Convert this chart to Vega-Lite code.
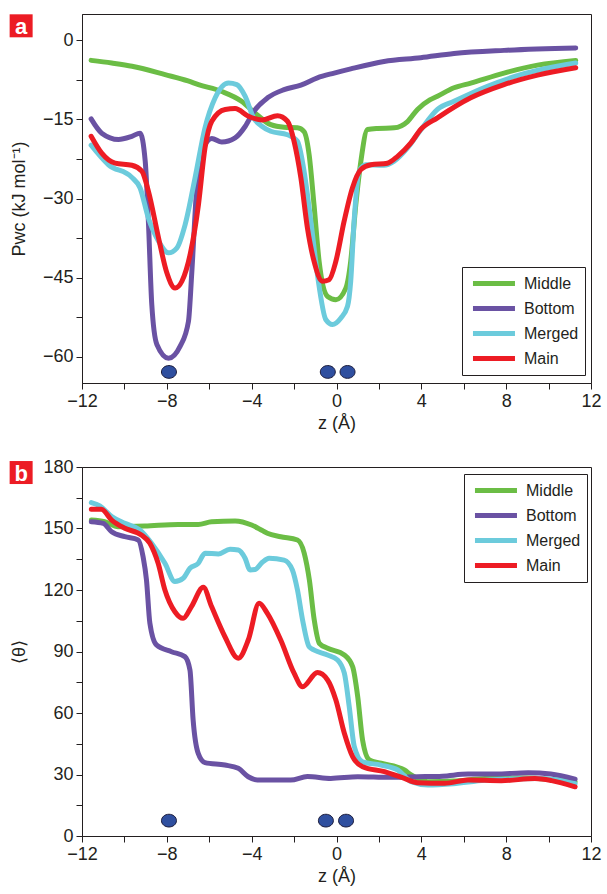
{
  "$schema": "https://vega.github.io/schema/vega-lite/v6.json",
  "padding": {"left": 9, "top": 13, "right": 2, "bottom": 2},
  "background": "white",
  "spacing": 24,
  "columns": 1,
  "align": "none",
  "config": {
    "font": "'Liberation Sans', Arial, sans-serif",
    "view": {"stroke": "#231f20", "strokeWidth": 1},
    "axis": {
      "grid": false,
      "labelFontSize": 18,
      "titleFontSize": 18,
      "titleFontWeight": "normal",
      "labelColor": "#231f20",
      "titleColor": "#231f20",
      "domainColor": "#231f20",
      "tickColor": "#231f20",
      "tickSize": 6,
      "labelPadding": 3,
      "labelFlush": false,
      "labelOverlap": false
    },
    "legend": {
      "strokeColor": "#231f20",
      "fillColor": "white",
      "padding": 6,
      "symbolType": "M-0.69,0L4.56,0",
      "symbolStrokeWidth": 5,
      "symbolSize": 256,
      "labelFontSize": 16,
      "labelColor": "#231f20",
      "labelOffset": 35,
      "rowPadding": 4
    }
  },
  "resolve": {"scale": {"color": "independent"}, "legend": {"color": "independent"}},
  "datasets": {
    "a": [
      {"s": "Middle", "z": -11.57, "v": -3.8}, {"s": "Middle", "z": -10.6, "v": -4.3}, {"s": "Middle", "z": -9.64, "v": -4.9}, {"s": "Middle", "z": -8.08, "v": -6.5}, {"s": "Middle", "z": -7.0, "v": -7.7}, {"s": "Middle", "z": -6.51, "v": -8.4}, {"s": "Middle", "z": -5.41, "v": -9.7}, {"s": "Middle", "z": -4.46, "v": -11.6}, {"s": "Middle", "z": -3.84, "v": -13.8}, {"s": "Middle", "z": -3.1, "v": -16.0}, {"s": "Middle", "z": -2.47, "v": -16.5}, {"s": "Middle", "z": -1.84, "v": -16.6}, {"s": "Middle", "z": -1.53, "v": -17.3}, {"s": "Middle", "z": -1.29, "v": -21.7}, {"s": "Middle", "z": -1.06, "v": -31.2}, {"s": "Middle", "z": -0.82, "v": -41.9}, {"s": "Middle", "z": -0.42, "v": -48.6}, {"s": "Middle", "z": -0.03, "v": -49.2}, {"s": "Middle", "z": 0.44, "v": -47.0}, {"s": "Middle", "z": 0.67, "v": -41.9}, {"s": "Middle", "z": 0.91, "v": -31.2}, {"s": "Middle", "z": 1.15, "v": -22.9}, {"s": "Middle", "z": 1.46, "v": -16.9}, {"s": "Middle", "z": 1.93, "v": -16.7}, {"s": "Middle", "z": 2.72, "v": -16.6}, {"s": "Middle", "z": 3.35, "v": -15.4}, {"s": "Middle", "z": 3.82, "v": -13.1}, {"s": "Middle", "z": 4.4, "v": -11.3}, {"s": "Middle", "z": 4.76, "v": -10.6}, {"s": "Middle", "z": 5.54, "v": -9.0}, {"s": "Middle", "z": 6.33, "v": -8.1}, {"s": "Middle", "z": 7.9, "v": -6.2}, {"s": "Middle", "z": 9.48, "v": -4.7}, {"s": "Middle", "z": 11.28, "v": -3.8},
      {"s": "Bottom", "z": -11.57, "v": -14.9}, {"s": "Bottom", "z": -11.07, "v": -17.6}, {"s": "Bottom", "z": -10.28, "v": -18.8}, {"s": "Bottom", "z": -9.65, "v": -18.2}, {"s": "Bottom", "z": -9.26, "v": -17.6}, {"s": "Bottom", "z": -9.02, "v": -22.9}, {"s": "Bottom", "z": -8.87, "v": -34.3}, {"s": "Bottom", "z": -8.71, "v": -50.1}, {"s": "Bottom", "z": -8.47, "v": -57.7}, {"s": "Bottom", "z": -7.92, "v": -60.3}, {"s": "Bottom", "z": -7.37, "v": -58.0}, {"s": "Bottom", "z": -6.98, "v": -53.3}, {"s": "Bottom", "z": -6.82, "v": -43.8}, {"s": "Bottom", "z": -6.59, "v": -28.0}, {"s": "Bottom", "z": -6.27, "v": -20.4}, {"s": "Bottom", "z": -5.88, "v": -18.6}, {"s": "Bottom", "z": -5.41, "v": -19.3}, {"s": "Bottom", "z": -4.78, "v": -18.5}, {"s": "Bottom", "z": -4.3, "v": -16.3}, {"s": "Bottom", "z": -3.9, "v": -13.5}, {"s": "Bottom", "z": -3.25, "v": -10.9}, {"s": "Bottom", "z": -2.47, "v": -9.35}, {"s": "Bottom", "z": -1.68, "v": -8.5}, {"s": "Bottom", "z": -0.9, "v": -7.1}, {"s": "Bottom", "z": -0.11, "v": -6.2}, {"s": "Bottom", "z": 0.67, "v": -5.4}, {"s": "Bottom", "z": 2.24, "v": -4.0}, {"s": "Bottom", "z": 3.97, "v": -3.3}, {"s": "Bottom", "z": 5.54, "v": -2.5}, {"s": "Bottom", "z": 7.9, "v": -1.9}, {"s": "Bottom", "z": 11.28, "v": -1.45},
      {"s": "Merged", "z": -11.57, "v": -19.9}, {"s": "Merged", "z": -10.75, "v": -23.6}, {"s": "Merged", "z": -9.65, "v": -26.0}, {"s": "Merged", "z": -9.26, "v": -28.0}, {"s": "Merged", "z": -8.87, "v": -33.7}, {"s": "Merged", "z": -8.39, "v": -38.1}, {"s": "Merged", "z": -7.92, "v": -40.3}, {"s": "Merged", "z": -7.53, "v": -39.4}, {"s": "Merged", "z": -7.14, "v": -35.0}, {"s": "Merged", "z": -6.67, "v": -26.1}, {"s": "Merged", "z": -6.2, "v": -16.6}, {"s": "Merged", "z": -5.72, "v": -10.9}, {"s": "Merged", "z": -5.09, "v": -8.1}, {"s": "Merged", "z": -4.7, "v": -8.4}, {"s": "Merged", "z": -4.31, "v": -10.6}, {"s": "Merged", "z": -3.91, "v": -14.7}, {"s": "Merged", "z": -3.52, "v": -16.3}, {"s": "Merged", "z": -3.1, "v": -17.25}, {"s": "Merged", "z": -2.31, "v": -17.9}, {"s": "Merged", "z": -1.84, "v": -19.15}, {"s": "Merged", "z": -1.53, "v": -24.8}, {"s": "Merged", "z": -1.21, "v": -34.3}, {"s": "Merged", "z": -0.9, "v": -44.4}, {"s": "Merged", "z": -0.5, "v": -53.0}, {"s": "Merged", "z": -0.19, "v": -53.9}, {"s": "Merged", "z": 0.2, "v": -52.7}, {"s": "Merged", "z": 0.52, "v": -50.45}, {"s": "Merged", "z": 0.67, "v": -45.7}, {"s": "Merged", "z": 0.83, "v": -34.3}, {"s": "Merged", "z": 1.07, "v": -24.8}, {"s": "Merged", "z": 1.38, "v": -23.6}, {"s": "Merged", "z": 2.24, "v": -23.7}, {"s": "Merged", "z": 2.72, "v": -22.9}, {"s": "Merged", "z": 3.35, "v": -20.4}, {"s": "Merged", "z": 3.97, "v": -17.0}, {"s": "Merged", "z": 4.76, "v": -13.1}, {"s": "Merged", "z": 5.54, "v": -11.56}, {"s": "Merged", "z": 7.12, "v": -8.7}, {"s": "Merged", "z": 8.69, "v": -6.5}, {"s": "Merged", "z": 11.28, "v": -4.3},
      {"s": "Main", "z": -11.57, "v": -18.2}, {"s": "Main", "z": -11.07, "v": -21.4}, {"s": "Main", "z": -10.44, "v": -23.3}, {"s": "Main", "z": -9.65, "v": -23.7}, {"s": "Main", "z": -9.18, "v": -24.8}, {"s": "Main", "z": -8.87, "v": -28.6}, {"s": "Main", "z": -8.39, "v": -37.5}, {"s": "Main", "z": -8.0, "v": -44.1}, {"s": "Main", "z": -7.61, "v": -47.0}, {"s": "Main", "z": -7.29, "v": -45.7}, {"s": "Main", "z": -6.9, "v": -40.6}, {"s": "Main", "z": -6.51, "v": -31.2}, {"s": "Main", "z": -6.2, "v": -20.4}, {"s": "Main", "z": -5.88, "v": -15.35}, {"s": "Main", "z": -5.25, "v": -13.1}, {"s": "Main", "z": -4.78, "v": -12.95}, {"s": "Main", "z": -4.15, "v": -14.4}, {"s": "Main", "z": -3.52, "v": -15.1}, {"s": "Main", "z": -2.78, "v": -14.3}, {"s": "Main", "z": -2.31, "v": -15.35}, {"s": "Main", "z": -2.0, "v": -19.15}, {"s": "Main", "z": -1.68, "v": -26.1}, {"s": "Main", "z": -1.37, "v": -35.6}, {"s": "Main", "z": -1.06, "v": -41.9}, {"s": "Main", "z": -0.66, "v": -45.7}, {"s": "Main", "z": -0.35, "v": -45.4}, {"s": "Main", "z": -0.03, "v": -41.9}, {"s": "Main", "z": 0.36, "v": -34.3}, {"s": "Main", "z": 0.75, "v": -28.0}, {"s": "Main", "z": 1.15, "v": -24.5}, {"s": "Main", "z": 1.62, "v": -23.6}, {"s": "Main", "z": 2.4, "v": -23.3}, {"s": "Main", "z": 2.88, "v": -22.0}, {"s": "Main", "z": 3.5, "v": -19.5}, {"s": "Main", "z": 3.97, "v": -16.9}, {"s": "Main", "z": 4.76, "v": -14.7}, {"s": "Main", "z": 6.33, "v": -10.9}, {"s": "Main", "z": 7.9, "v": -8.4}, {"s": "Main", "z": 9.48, "v": -6.6}, {"s": "Main", "z": 11.28, "v": -5.2}
    ],
    "b": [
      {"s": "Middle", "z": -11.56, "v": 154.1}, {"s": "Middle", "z": -10.93, "v": 153.3}, {"s": "Middle", "z": -10.3, "v": 150.9}, {"s": "Middle", "z": -9.04, "v": 151.2}, {"s": "Middle", "z": -7.46, "v": 152.0}, {"s": "Middle", "z": -6.52, "v": 152.0}, {"s": "Middle", "z": -5.89, "v": 153.3}, {"s": "Middle", "z": -4.78, "v": 153.7}, {"s": "Middle", "z": -4.0, "v": 151.7}, {"s": "Middle", "z": -3.5, "v": 149.0}, {"s": "Middle", "z": -3.26, "v": 147.7}, {"s": "Middle", "z": -2.63, "v": 146.0}, {"s": "Middle", "z": -1.84, "v": 144.4}, {"s": "Middle", "z": -1.52, "v": 137.9}, {"s": "Middle", "z": -1.28, "v": 124.9}, {"s": "Middle", "z": -1.05, "v": 105.4}, {"s": "Middle", "z": -0.81, "v": 94.0}, {"s": "Middle", "z": -0.42, "v": 91.6}, {"s": "Middle", "z": 0.37, "v": 88.3}, {"s": "Middle", "z": 0.76, "v": 82.6}, {"s": "Middle", "z": 1.0, "v": 68.0}, {"s": "Middle", "z": 1.23, "v": 46.8}, {"s": "Middle", "z": 1.55, "v": 37.1}, {"s": "Middle", "z": 2.1, "v": 35.5}, {"s": "Middle", "z": 3.2, "v": 32.2}, {"s": "Middle", "z": 3.52, "v": 29.8}, {"s": "Middle", "z": 4.31, "v": 26.5}, {"s": "Middle", "z": 5.5, "v": 26.8}, {"s": "Middle", "z": 7.0, "v": 28.0}, {"s": "Middle", "z": 9.0, "v": 28.3}, {"s": "Middle", "z": 10.2, "v": 27.5}, {"s": "Middle", "z": 11.25, "v": 26.5},
      {"s": "Bottom", "z": -11.56, "v": 153.3}, {"s": "Bottom", "z": -11.0, "v": 152.5}, {"s": "Bottom", "z": -10.6, "v": 148.4}, {"s": "Bottom", "z": -9.98, "v": 146.0}, {"s": "Bottom", "z": -9.35, "v": 144.4}, {"s": "Bottom", "z": -9.12, "v": 136.2}, {"s": "Bottom", "z": -8.96, "v": 124.9}, {"s": "Bottom", "z": -8.8, "v": 103.8}, {"s": "Bottom", "z": -8.49, "v": 93.2}, {"s": "Bottom", "z": -7.78, "v": 89.9}, {"s": "Bottom", "z": -7.15, "v": 87.5}, {"s": "Bottom", "z": -6.91, "v": 81.0}, {"s": "Bottom", "z": -6.76, "v": 56.6}, {"s": "Bottom", "z": -6.52, "v": 40.3}, {"s": "Bottom", "z": -6.2, "v": 35.8}, {"s": "Bottom", "z": -5.26, "v": 34.6}, {"s": "Bottom", "z": -4.63, "v": 33.0}, {"s": "Bottom", "z": -4.16, "v": 28.9}, {"s": "Bottom", "z": -3.73, "v": 27.3}, {"s": "Bottom", "z": -2.16, "v": 27.3}, {"s": "Bottom", "z": -1.37, "v": 29.0}, {"s": "Bottom", "z": -0.27, "v": 28.1}, {"s": "Bottom", "z": 1.0, "v": 28.9}, {"s": "Bottom", "z": 2.5, "v": 28.6}, {"s": "Bottom", "z": 3.83, "v": 28.9}, {"s": "Bottom", "z": 5.0, "v": 29.2}, {"s": "Bottom", "z": 6.2, "v": 30.2}, {"s": "Bottom", "z": 7.5, "v": 30.2}, {"s": "Bottom", "z": 9.04, "v": 30.9}, {"s": "Bottom", "z": 10.1, "v": 30.2}, {"s": "Bottom", "z": 11.25, "v": 27.7},
      {"s": "Merged", "z": -11.56, "v": 162.6}, {"s": "Merged", "z": -11.16, "v": 161.0}, {"s": "Merged", "z": -10.6, "v": 155.8}, {"s": "Merged", "z": -9.98, "v": 152.5}, {"s": "Merged", "z": -9.27, "v": 149.3}, {"s": "Merged", "z": -8.72, "v": 142.8}, {"s": "Merged", "z": -8.09, "v": 133.0}, {"s": "Merged", "z": -7.62, "v": 124.1}, {"s": "Merged", "z": -7.23, "v": 125.7}, {"s": "Merged", "z": -6.91, "v": 130.6}, {"s": "Merged", "z": -6.52, "v": 133.0}, {"s": "Merged", "z": -6.2, "v": 137.9}, {"s": "Merged", "z": -5.57, "v": 137.6}, {"s": "Merged", "z": -5.02, "v": 139.9}, {"s": "Merged", "z": -4.63, "v": 139.5}, {"s": "Merged", "z": -4.31, "v": 135.5}, {"s": "Merged", "z": -4.08, "v": 129.8}, {"s": "Merged", "z": -3.84, "v": 130.0}, {"s": "Merged", "z": -3.5, "v": 133.5}, {"s": "Merged", "z": -3.18, "v": 135.5}, {"s": "Merged", "z": -2.47, "v": 134.6}, {"s": "Merged", "z": -2.08, "v": 129.8}, {"s": "Merged", "z": -1.84, "v": 120.0}, {"s": "Merged", "z": -1.6, "v": 105.4}, {"s": "Merged", "z": -1.29, "v": 92.3}, {"s": "Merged", "z": -1.05, "v": 90.7}, {"s": "Merged", "z": -0.42, "v": 88.3}, {"s": "Merged", "z": 0.05, "v": 85.9}, {"s": "Merged", "z": 0.37, "v": 79.4}, {"s": "Merged", "z": 0.6, "v": 63.1}, {"s": "Merged", "z": 0.84, "v": 43.6}, {"s": "Merged", "z": 1.23, "v": 36.2}, {"s": "Merged", "z": 2.1, "v": 34.6}, {"s": "Merged", "z": 2.89, "v": 32.2}, {"s": "Merged", "z": 3.52, "v": 26.5}, {"s": "Merged", "z": 4.31, "v": 24.9}, {"s": "Merged", "z": 5.5, "v": 25.5}, {"s": "Merged", "z": 7.0, "v": 27.2}, {"s": "Merged", "z": 9.5, "v": 28.0}, {"s": "Merged", "z": 10.3, "v": 27.5}, {"s": "Merged", "z": 11.25, "v": 25.5},
      {"s": "Main", "z": -11.56, "v": 159.4}, {"s": "Main", "z": -11.09, "v": 159.4}, {"s": "Main", "z": -10.6, "v": 154.1}, {"s": "Main", "z": -9.98, "v": 150.1}, {"s": "Main", "z": -9.2, "v": 146.8}, {"s": "Main", "z": -8.8, "v": 142.8}, {"s": "Main", "z": -8.41, "v": 133.0}, {"s": "Main", "z": -8.09, "v": 120.0}, {"s": "Main", "z": -7.62, "v": 109.4}, {"s": "Main", "z": -7.23, "v": 106.2}, {"s": "Main", "z": -6.84, "v": 111.9}, {"s": "Main", "z": -6.28, "v": 121.3}, {"s": "Main", "z": -5.89, "v": 111.9}, {"s": "Main", "z": -5.26, "v": 97.2}, {"s": "Main", "z": -4.63, "v": 86.7}, {"s": "Main", "z": -4.16, "v": 95.6}, {"s": "Main", "z": -3.65, "v": 113.5}, {"s": "Main", "z": -3.26, "v": 108.6}, {"s": "Main", "z": -2.63, "v": 95.6}, {"s": "Main", "z": -2.0, "v": 79.4}, {"s": "Main", "z": -1.6, "v": 72.8}, {"s": "Main", "z": -0.9, "v": 79.7}, {"s": "Main", "z": -0.42, "v": 76.1}, {"s": "Main", "z": -0.03, "v": 66.3}, {"s": "Main", "z": 0.37, "v": 50.1}, {"s": "Main", "z": 0.76, "v": 38.7}, {"s": "Main", "z": 1.23, "v": 33.8}, {"s": "Main", "z": 2.26, "v": 31.4}, {"s": "Main", "z": 3.2, "v": 28.1}, {"s": "Main", "z": 3.83, "v": 26.0}, {"s": "Main", "z": 5.1, "v": 25.7}, {"s": "Main", "z": 6.2, "v": 27.3}, {"s": "Main", "z": 7.77, "v": 27.0}, {"s": "Main", "z": 9.35, "v": 28.0}, {"s": "Main", "z": 10.14, "v": 27.0}, {"s": "Main", "z": 11.25, "v": 24.0}
    ],
    "dotsA": [{"z": -7.9, "v": -62.9}, {"z": -0.41, "v": -62.9}, {"z": 0.52, "v": -62.9}],
    "dotsB": [{"z": -7.9, "v": 7.5}, {"z": -0.5, "v": 7.5}, {"z": 0.45, "v": 7.5}],
    "labA": [{"z": -14.87, "v": 2.76, "t": "a"}],
    "labB": [{"z": -14.87, "v": 177.3, "t": "b"}]
  },
  "concat": [
    {
      "width": 509,
      "height": 369,
      "encoding": {
        "x": {"field": "z", "type": "quantitative", "scale": {"domain": [-12, 12], "nice": false, "zero": false},
          "axis": {"values": [-12, -10, -8, -6, -4, -2, 0, 2, 4, 6, 8, 10, 12], "labelExpr": "datum.value % 4 === 0 ? datum.label : ''", "title": "z (Å)", "titlePadding": 4}},
        "y": {"field": "v", "type": "quantitative", "scale": {"domain": [-65, 5], "nice": false, "zero": false},
          "axis": {"values": [-60, -52.5, -45, -37.5, -30, -22.5, -15, -7.5, 0], "format": "d", "labelExpr": "datum.value % 15 === 0 ? datum.label : ''", "title": "Pwc (kJ mol⁻¹)", "titleX": -54}}
      },
      "layer": [
        {
          "data": {"name": "a"},
          "mark": {"type": "line", "strokeWidth": 5, "interpolate": "monotone", "strokeCap": "round", "strokeJoin": "round"},
          "encoding": {
            "color": {"field": "s", "type": "nominal", "sort": null,
              "scale": {"domain": ["Middle", "Bottom", "Merged", "Main"], "range": ["#6bbd45", "#6a52a3", "#6ccbdc", "#ed1c24"]},
              "legend": {"orient": "none", "legendX": 380, "legendY": 253, "title": null}}
          }
        },
        {
          "data": {"name": "dotsA"},
          "mark": {"type": "point", "shape": "M-1,0 A1,0.85 0 1,0 1,0 A1,0.85 0 1,0 -1,0 Z", "filled": true, "size": 225, "fill": "#2f4f9f", "stroke": "#1b1b3a", "strokeWidth": 1, "opacity": 1}
        },
        {
          "data": {"name": "labA"},
          "mark": {"type": "square", "size": 529, "color": "#ec1c24", "opacity": 1}
        },
        {
          "data": {"name": "labA"},
          "mark": {"type": "text", "color": "white", "fontWeight": "bold", "fontSize": 22, "font": "Liberation Sans", "baseline": "middle", "align": "center", "dy": 1},
          "encoding": {"text": {"field": "t"}}
        }
      ]
    },
    {
      "width": 509,
      "height": 369,
      "encoding": {
        "x": {"field": "z", "type": "quantitative", "scale": {"domain": [-12, 12], "nice": false, "zero": false},
          "axis": {"values": [-12, -10, -8, -6, -4, -2, 0, 2, 4, 6, 8, 10, 12], "labelExpr": "datum.value % 4 === 0 ? datum.label : ''", "title": "z (Å)", "titlePadding": 4}},
        "y": {"field": "v", "type": "quantitative", "scale": {"domain": [0, 180], "nice": false, "zero": false},
          "axis": {"values": [0, 15, 30, 45, 60, 75, 90, 105, 120, 135, 150, 165, 180], "format": "d", "labelExpr": "datum.value % 30 === 0 ? datum.label : ''", "title": "⟨θ⟩", "titleX": -54}}
      },
      "layer": [
        {
          "data": {"name": "b"},
          "mark": {"type": "line", "strokeWidth": 5, "interpolate": "monotone", "strokeCap": "round", "strokeJoin": "round"},
          "encoding": {
            "color": {"field": "s", "type": "nominal", "sort": null,
              "scale": {"domain": ["Middle", "Bottom", "Merged", "Main"], "range": ["#6bbd45", "#6a52a3", "#6ccbdc", "#ed1c24"]},
              "legend": {"orient": "none", "legendX": 382, "legendY": 7, "title": null}}
          }
        },
        {
          "data": {"name": "dotsB"},
          "mark": {"type": "point", "shape": "M-1,0 A1,0.85 0 1,0 1,0 A1,0.85 0 1,0 -1,0 Z", "filled": true, "size": 225, "fill": "#2f4f9f", "stroke": "#1b1b3a", "strokeWidth": 1, "opacity": 1}
        },
        {
          "data": {"name": "labB"},
          "mark": {"type": "square", "size": 529, "color": "#ec1c24", "opacity": 1}
        },
        {
          "data": {"name": "labB"},
          "mark": {"type": "text", "color": "white", "fontWeight": "bold", "fontSize": 22, "font": "Liberation Sans", "baseline": "middle", "align": "center", "dy": 1},
          "encoding": {"text": {"field": "t"}}
        }
      ]
    }
  ]
}
